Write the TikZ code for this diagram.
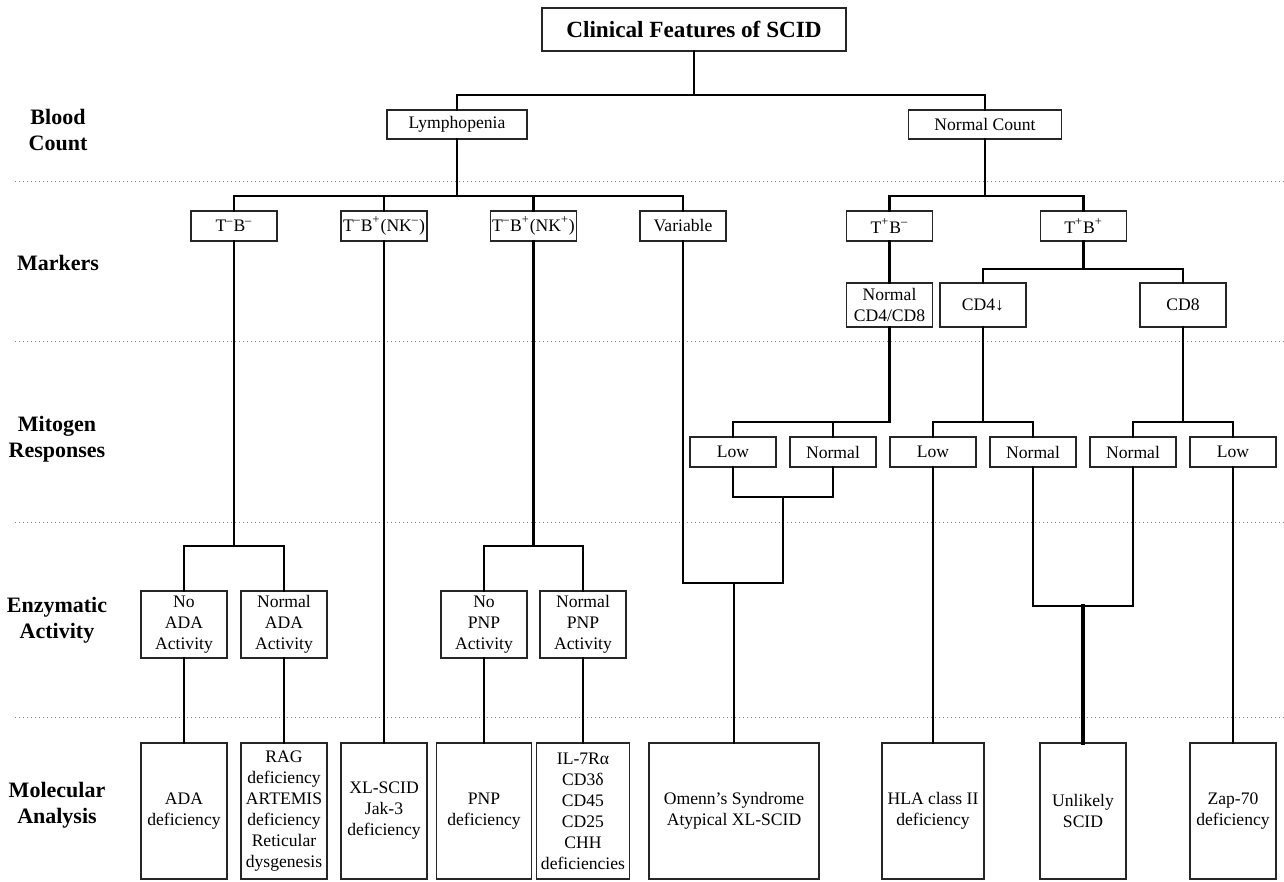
\documentclass[tikz,border=0pt]{standalone}
\usepackage{fontspec}
\setmainfont{Liberation Serif}
\begin{document}
\begin{tikzpicture}[x=0.5pt,y=-0.5pt,
  box/.style={draw=black!85, line width=0.6pt, align=center, inner sep=1pt,
    font=\fontsize{8.8}{10.5}\selectfont, minimum width=43pt, minimum height=15pt},
  tallbox/.style={box, minimum height=22pt},
  enzbox/.style={box, minimum height=33.5pt},
  molbox/.style={box, minimum height=68pt},
  titlebox/.style={draw=black!85, line width=0.7pt, align=center,
    font=\fontsize{11.6}{13}\selectfont\bfseries, minimum width=152pt, minimum height=21.5pt},
  rowlabel/.style={align=center, font=\fontsize{11}{13}\selectfont\bfseries, inner sep=0pt},
  conn/.style={line width=1.3pt, line cap=rect},
  heavyconn/.style={line width=2.2pt},
  sep/.style={gray, line width=0.5pt, dash pattern=on 0.6pt off 1.4pt}]

\useasboundingbox (0,0) rectangle (1284,882);

% level separators
\foreach \yy in {182,341,522,717}
  \draw[sep] (15,\yy) -- (1284,\yy);

% row labels
\node[rowlabel] (lblood) at (58,130.5) {Blood\\Count};
\node[rowlabel] (lmark)  at (58,263) {Markers};
\node[rowlabel] (lmito)  at (57,439.5) {Mitogen\\Responses};
\node[rowlabel] (lenz)   at (57,620.5) {Enzymatic\\Activity};
\node[rowlabel] (lmol)   at (57,805) {Molecular\\Analysis};

% root and blood count
\node[titlebox] (title) at (694,29.5) {Clinical Features of SCID};
\node[box, minimum width=70pt, minimum height=14.5pt] (lymph) at (457,124.5) {Lymphopenia};
\node[box, minimum width=76.5pt, minimum height=14.5pt] (ncount) at (985,124.5) {Normal Count};

% markers
\node[box] (tbm)  at (234,226) {T\textsuperscript{–}B\textsuperscript{–}};
\node[box] (nkm)  at (384,226) {T\textsuperscript{–}B\textsuperscript{+}(NK\textsuperscript{–})};
\node[box] (nkp)  at (533.5,226) {T\textsuperscript{–}B\textsuperscript{+}(NK\textsuperscript{+})};
\node[box] (var)  at (683,226) {Variable};
\node[box] (tpbm) at (889.5,226) {T\textsuperscript{+}B\textsuperscript{–}};
\node[box] (tpbp) at (1083.5,226) {T\textsuperscript{+}B\textsuperscript{+}};
\node[tallbox] (ncd) at (889.5,305) {Normal\\CD4/CD8};
\node[tallbox] (cd4) at (983,305) {CD4↓};
\node[tallbox] (cd8) at (1183,305) {CD8};

% mitogen responses
\node[box] (mlowa)  at (733,452) {Low};
\node[box] (mnorma) at (833,452) {Normal};
\node[box] (mlowb)  at (933,452) {Low};
\node[box] (mnormb) at (1033,452) {Normal};
\node[box] (mnormc) at (1133,452) {Normal};
\node[box] (mlowc)  at (1233,452) {Low};

% enzymatic activity
\node[enzbox] (noada)   at (184,624.5) {No\\ADA\\Activity};
\node[enzbox] (normada) at (284,624.5) {Normal\\ADA\\Activity};
\node[enzbox] (nopnp)   at (484,624.5) {No\\PNP\\Activity};
\node[enzbox] (normpnp) at (583,624.5) {Normal\\PNP\\Activity};

% molecular analysis
\node[molbox] (adadef) at (184,811) {ADA\\deficiency};
\node[molbox] (rag)    at (284,811) {RAG\\deficiency\\ARTEMIS\\deficiency\\Reticular\\dysgenesis};
\node[molbox] (xl)     at (384,811) {XL-SCID\\Jak-3\\deficiency};
\node[molbox, minimum width=47.5pt] (pnpdef) at (484,811) {PNP\\deficiency};
\node[molbox, minimum width=46.5pt] (il7)    at (583,811) {IL-7Rα\\CD3δ\\CD45\\CD25\\CHH\\deficiencies};
\node[molbox, minimum width=85pt]   (omenn)  at (734,811) {Omenn’s Syndrome\\Atypical XL-SCID};
\node[molbox, minimum width=51pt]   (hla)    at (933,811) {HLA class II\\deficiency};
\node[molbox] (unlikely) at (1083,811) {Unlikely\\SCID};
\node[molbox] (zap)      at (1233,811) {Zap-70\\deficiency};

% junction points
\coordinate (j0) at (694,95);
\coordinate (j1) at (457,196);
\coordinate (j2) at (985,196);
\coordinate (j3) at (1083.5,269);
\coordinate (j4) at (234,546);
\coordinate (j5) at (533.5,546);
\coordinate (j6) at (889.5,422);
\coordinate (j7) at (983,422);
\coordinate (j8) at (1183,422);
\coordinate (u1) at (783,497);
\coordinate (u2) at (783,583);
\coordinate (u3) at (1083,606);

% connectors
\draw[conn] (title.south) -- (j0);
\draw[conn] (lymph.north) |- (j0) -| (ncount.north);

\draw[conn] (lymph.south) -- (j1);
\draw[conn] (tbm.north) |- (j1) -| (var.north);
\draw[conn] (nkm.north) -- (nkm.north |- j1);
\draw[conn] (nkp.north) -- (nkp.north |- j1);

\draw[conn] (ncount.south) -- (j2);
\draw[conn] (tpbm.north) |- (j2) -| (tpbp.north);

\draw[conn] (tpbm.south) -- (ncd.north);
\draw[conn] (tpbp.south) -- (j3);
\draw[conn] (cd4.north) |- (j3) -| (cd8.north);

\draw[conn] (tbm.south) -- (j4);
\draw[conn] (noada.north) |- (j4) -| (normada.north);
\draw[conn] (nkm.south) -- (xl.north);
\draw[conn] (nkp.south) -- (j5);
\draw[conn] (nopnp.north) |- (j5) -| (normpnp.north);

\draw[conn] (ncd.south) -- (j6) -| (mlowa.north);
\draw[conn] (mnorma.north) -- (mnorma.north |- j6);
\draw[conn] (cd4.south) -- (j7);
\draw[conn] (mlowb.north) |- (j7) -| (mnormb.north);
\draw[conn] (cd8.south) -- (j8);
\draw[conn] (mnormc.north) |- (j8) -| (mlowc.north);

\draw[conn] (mlowa.south) |- (u1) -| (mnorma.south);
\draw[conn] (var.south) |- (u2) -- (u1);
\draw[conn] (omenn.north) -- (omenn.north |- u2);

\draw[conn] (mlowb.south) -- (hla.north);
\draw[conn] (mnormb.south) |- (u3) -| (mnormc.south);
\draw[conn, heavyconn] (u3) -- (unlikely.north);
\draw[conn] (mlowc.south) -- (zap.north);

\draw[conn] (noada.south) -- (adadef.north);
\draw[conn] (normada.south) -- (rag.north);
\draw[conn] (nopnp.south) -- (pnpdef.north);
\draw[conn] (normpnp.south) -- (il7.north);

\end{tikzpicture}
\end{document}
